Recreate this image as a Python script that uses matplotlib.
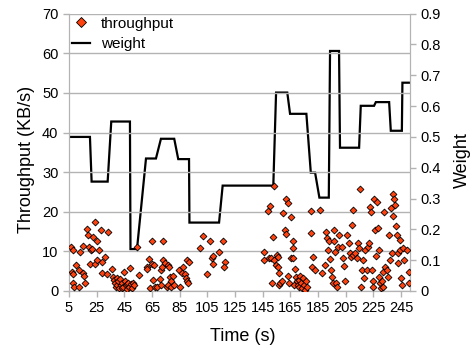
import matplotlib
matplotlib.use("Agg")
import matplotlib.pyplot as plt
from matplotlib.lines import Line2D

plt.rcParams["font.family"] = ["Liberation Sans", "DejaVu Sans"]

# Weight (right axis), step-like line
weight_t = [6.4, 20.2, 21.4, 33.0, 35.6, 49.1, 49.5, 54.2, 60.7, 67.9, 71.5, 81.1,
            84.0, 91.8, 92.1, 113.5, 116.1, 152.7, 154.7, 162.8, 164.8, 176.6,
            179.8, 182.9, 186.0, 192.8, 193.7, 200.2, 200.9, 214.7, 215.9, 225.5,
            226.8, 236.4, 237.6, 245.6, 246.0, 251.6]
weight_v = [0.50, 0.50, 0.355, 0.355, 0.55, 0.55, 0.136, 0.136, 0.43, 0.43, 0.494, 0.494,
            0.428, 0.428, 0.222, 0.222, 0.342, 0.342, 0.644, 0.644, 0.575, 0.575,
            0.384, 0.384, 0.303, 0.303, 0.779, 0.779, 0.465, 0.465, 0.601, 0.601,
            0.613, 0.613, 0.52, 0.52, 0.676, 0.676]

# Throughput samples (left axis)
thr_t = [6.4, 7.7, 6.9, 7.9, 8.1, 8.6, 12.0, 10.3, 12.5, 13.0, 15.4, 15.8, 15.4, 16.8,
         18.3, 19.0, 19.7, 20.7, 20.2, 21.6, 22.1, 23.8, 23.6, 25.0, 25.5, 26.9, 27.9,
         28.6, 28.9, 31.0, 33.4, 32.7, 35.8,
         37.0, 37.5, 38.3, 38.7, 39.5, 39.9, 40.7, 41.1, 41.9, 42.3, 43.1, 43.6, 44.3,
         44.8, 45.5, 46.0, 46.7, 47.2, 47.9, 48.6, 49.1, 49.6, 50.3, 51.5, 52.2, 53.9,
         55.8, 61.1, 61.6, 62.8, 63.3, 64.8, 65.5, 65.2, 66.7, 67.2, 68.4, 70.8, 71.3,
         72.7, 71.7, 72.5, 73.2, 74.4, 75.6, 76.3, 76.8, 77.3, 78.0, 78.5, 78.7, 79.9,
         80.9, 84.8, 85.2, 86.4, 87.6, 88.9, 89.3, 90.1, 90.5, 91.3, 91.7,
         99.7, 102.1, 105.0, 106.9, 108.1, 109.3, 109.3, 113.4, 116.1, 117.8, 117.3,
         153.0, 145.8, 146.2, 148.6, 150.3, 149.4, 151.1, 152.7, 151.8, 153.5, 155.2,
         155.9, 154.7, 155.9, 156.6, 157.1, 157.8, 159.0, 160.0, 161.9, 163.1, 161.4,
         161.9, 163.1, 163.8, 165.5, 166.7, 166.7, 165.5, 167.2, 167.9, 168.7, 169.1,
         169.6, 170.3, 171.1, 171.5, 172.0, 172.8, 173.5, 174.0, 175.2, 175.9, 176.4,
         176.8, 180.0, 180.0, 181.7, 180.7, 183.1, 186.5, 188.0, 190.3, 190.8, 191.3,
         192.0, 192.8, 193.7, 194.4, 194.9, 195.6, 196.4, 196.9, 197.3, 198.1, 198.5,
         199.3, 200.5, 202.4, 203.4, 204.1, 204.8, 205.8, 207.2, 208.2, 208.9, 209.6,
         210.1, 210.6, 212.0, 213.0, 213.7, 214.9, 215.4, 216.1, 216.9, 217.3, 218.5,
         219.3, 220.2, 221.0, 221.7, 222.6, 223.4, 224.1, 224.6, 225.1, 225.8, 226.5,
         227.0, 227.5, 228.2, 228.9, 229.4, 229.9, 230.6, 231.3, 231.8, 232.3, 233.0,
         233.7, 234.7, 235.4, 236.6, 237.1, 237.8, 238.5, 239.0, 239.5, 240.2, 240.9,
         241.4, 242.2, 242.6, 243.1, 243.9, 244.6, 245.1, 245.8, 246.3, 247.5, 249.2,
         250.6, 251.1]
thr_v = [11.0, 10.4, 4.9, 4.3, 2.1, 0.9, 0.9, 6.6, 5.3, 9.9, 4.5, 3.8, 11.4, 1.9,
         15.6, 14.1, 11.0, 10.4, 6.8, 10.5, 13.7, 17.5, 6.8, 12.7, 7.8, 10.4, 15.4,
         4.6, 7.4, 8.5, 14.8, 4.3, 5.6,
         3.5, 2.8, 1.9, 1.1, 3.2, 1.5, 2.4, 0.7, 2.9, 1.5, 2.1, 0.7, 1.1,
         4.7, 2.6, 1.5, 1.7, 0.6, 1.9, 1.1, 5.7, 1.8, 0.7, 2.1, 1.5, 11.1,
         4.0, 6.1, 5.5, 8.0, 0.7, 12.7, 2.8, 6.8, 6.6, 1.1, 0.9, 2.9, 1.5,
         12.5, 5.3, 6.1, 7.8, 7.0, 1.1, 1.5, 6.6, 6.0, 3.5, 2.4, 1.1, 3.8,
         1.5, 5.3, 0.9, 4.5, 6.1, 4.3, 3.2, 2.4, 7.8, 1.9, 7.4,
         10.8, 13.9, 4.3, 12.5, 8.2, 8.8, 6.8, 9.9, 12.7, 7.4, 6.1,
         26.5, 9.9, 7.7, 20.3, 21.5, 8.2, 8.2, 13.7, 2.1, 7.8, 9.1,
         8.5, 6.6, 6.1, 4.5, 1.5, 1.9, 2.4, 19.6, 23.1, 22.3, 15.4,
         14.4, 3.8, 1.9, 18.8, 12.7, 10.8, 8.2, 8.2, 1.5, 5.5, 3.6,
         2.4, 1.5, 0.9, 2.8, 3.8, 1.9, 0.7, 3.2, 1.5, 0.3, 2.4,
         1.1, 20.3, 14.6, 8.7, 6.0, 5.3, 20.5, 4.5, 6.6, 15.0, 13.3,
         10.4, 12.5, 8.0, 5.3, 3.6, 2.1, 15.4, 12.6, 9.9, 1.9, 1.1,
         11.2, 14.1, 11.0, 8.2, 6.3, 2.4, 14.1, 12.2, 9.5, 8.5, 16.7,
         20.5, 9.1, 9.5, 8.2, 12.2, 10.8, 25.8, 1.1, 5.3, 7.8, 3.2,
         10.4, 5.3, 11.0, 12.2, 21.1, 20.0, 5.3, 2.4, 1.1, 23.1, 15.4,
         8.8, 22.4, 15.8, 10.4, 3.6, 1.9, 0.7, 2.5, 4.9, 1.1, 20.0,
         6.1, 5.3, 3.6, 14.1, 7.8, 20.9, 9.5, 24.5, 18.9, 23.1, 21.7,
         16.4, 14.1, 9.5, 7.0, 12.9, 10.4, 3.2, 1.5, 10.8, 7.8, 10.4,
         1.9, 4.9]

x_ticks = list(range(5, 250, 20))
gray = "#b3b3b3"
orange = "#ff420e"

fig = plt.figure(figsize=(4.72, 3.51), dpi=100)
ax = fig.add_axes([0.146, 0.171, 0.723, 0.790])
ax2 = ax.twinx()

# line behind the markers
ax.set_zorder(ax2.get_zorder() + 1)
ax.patch.set_visible(False)

ax2.plot(weight_t, weight_v, color="black", lw=1.6, solid_joinstyle="miter")
ax.scatter(thr_t, thr_v, marker="D", s=12, color=orange, edgecolors="black",
           linewidths=0.6, zorder=3)

ax.set_xlim(5, 251.6)
ax.set_ylim(0, 70)
ax2.set_ylim(0, 0.9)
ax.set_xticks(x_ticks)
ax.set_yticks(range(0, 71, 10))
ax2.set_yticks([i / 10 for i in range(10)])
ax2.set_yticklabels(["0"] + [f"{i / 10:.1f}" for i in range(1, 10)])

ax.grid(axis="y", color=gray, lw=1)
ax.set_axisbelow(True)
for a in (ax, ax2):
    for s in a.spines.values():
        s.set_color(gray)
    a.spines["top"].set_visible(False)
    a.tick_params(colors=gray, labelcolor="black", labelsize=10.5, length=4, width=1)
ax.tick_params(axis="x", pad=3)

ax.set_xlabel("Time (s)", fontsize=13)
ax.set_ylabel("Throughput (KB/s)", fontsize=13)
ax2.set_ylabel("Weight", fontsize=13)
ax.xaxis.set_label_coords(0.51, -0.135)
ax.yaxis.set_label_coords(-0.10, 0.475)
ax2.yaxis.set_label_coords(1.127, 0.473)

handles = [Line2D([], [], marker="D", ls="none", color=orange, markeredgecolor="black",
                  markeredgewidth=0.6, markersize=5),
           Line2D([], [], color="black", lw=1.6)]
ax.legend(handles, ["throughput", "weight"], loc="upper left", frameon=False,
          fontsize=11, handlelength=1.2, handletextpad=0.7, borderaxespad=0.0,
          labelspacing=0.4, borderpad=0.2)

fig.savefig("out.png", dpi=100)
